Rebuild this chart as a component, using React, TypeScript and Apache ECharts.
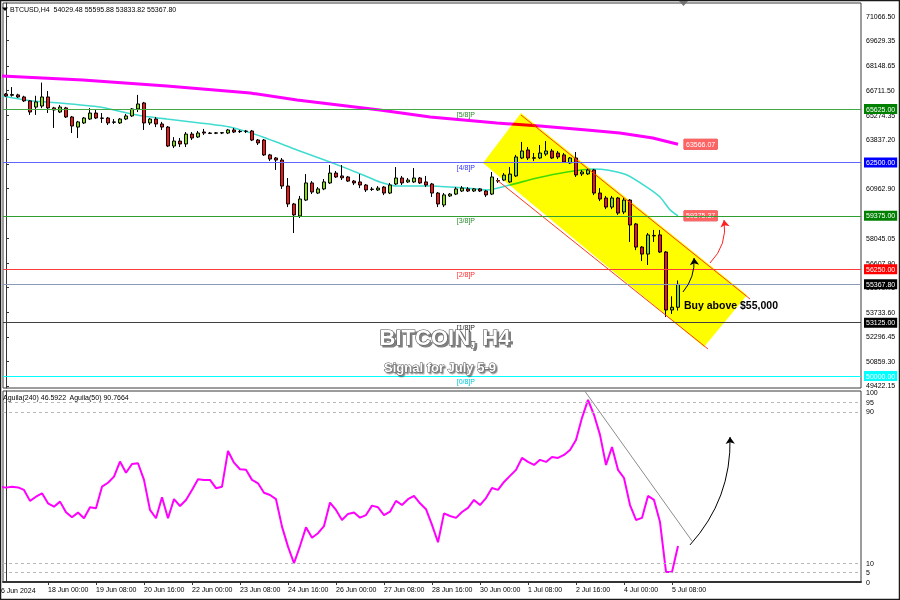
import React, { useEffect, useRef } from "react";
import * as echarts from "echarts";

const FONT = '"Liberation Sans", Arial, sans-serif';

// ---------- price data (H4 candles, 16 Jun 20:00 .. 5 Jul 12:00) ----------
const candleOpen = [
  66500, 66430, 66450, 66330, 66100, 65740, 65800, 66330, 65690, 65450,
  65690, 65160, 64570, 64810, 65040, 65390, 65100, 65100, 64870, 64810,
  65040, 65220, 65630, 65980, 64810, 65040, 64750, 64570, 63460, 63750,
  63580, 64160, 63990, 64280, 64220, 64210, 64220, 64220, 64400, 64300,
  64320, 64340, 63810, 63810, 62940, 62760, 62640, 61120, 60070, 59370,
  60300, 61300, 60710, 60950, 61300, 61880, 61710, 61650, 61410, 61360,
  61180, 60940, 60890, 61060, 60710, 61240, 61590, 61360, 61360, 61590,
  61360, 61240, 60710, 60010, 60540, 60650, 60830, 60950, 60830, 60950,
  60830, 60650, 61410, 61470, 61360, 61710, 62760, 63230, 62770, 62760,
  62990, 63170, 63050, 62940, 62470, 62760, 61830, 61830, 62060, 60710,
  60420, 59890, 60420, 59600, 60300, 58900, 57550, 57140, 58200, 58260,
  57260, 53870, 54029.48,
];
const candleClose = [
  66390, 66470, 66330, 66100, 65450, 66040, 66330, 65690, 65570, 65740,
  65160, 64630, 64870, 65100, 65390, 65100, 65080, 64810, 64850, 65040,
  65220, 65630, 65920, 64810, 65040, 64750, 64570, 63460, 63750, 63580,
  64160, 63930, 64220, 64220, 64200, 64230, 64240, 64400, 64280, 64320,
  64330, 63810, 63640, 62940, 62700, 62640, 61120, 60070, 59430, 60360,
  61300, 60770, 60950, 61360, 61880, 61650, 61600, 61410, 61300, 61180,
  60890, 60920, 61000, 60710, 61180, 61590, 61300, 61470, 61590, 61300,
  61180, 60710, 60070, 60600, 60650, 60950, 61000, 60830, 60950, 60830,
  60600, 61650, 61440, 61760, 61820, 62820, 63170, 62760, 62750, 63050,
  63170, 62760, 62820, 62530, 62760, 61770, 61940, 62060, 60710, 60360,
  59890, 60420, 59540, 60300, 58840, 57550, 57140, 58260, 58230, 57260,
  53870, 54029.48, 55367.8,
];
const candleLow = [
  66330, 66350, 66270, 66040, 65280, 65280, 65680, 65390, 64520, 65390,
  65100, 64220, 63930, 64750, 64980, 65040, 64810, 64690, 64750, 64750,
  64980, 65160, 65450, 64400, 64690, 64570, 64400, 63400, 63340, 63400,
  63400, 63810, 63930, 64110, 64160, 64160, 64160, 64160, 64220, 64220,
  64220, 63750, 63520, 62880, 62580, 62060, 60950, 59890, 58370, 59250,
  60240, 60650, 60650, 60880, 61240, 61590, 61470, 61360, 61180, 61000,
  60770, 60830, 60830, 60590, 60650, 61180, 61180, 61300, 61300, 61240,
  61060, 60480, 59890, 59890, 60480, 60590, 60770, 60770, 60770, 60770,
  60480, 60590, 61300, 61410, 61300, 61650, 62700, 62640, 62580, 62700,
  62880, 62700, 62700, 62470, 62410, 61650, 61710, 61770, 60590, 60240,
  59770, 59770, 59430, 59480, 57850, 57370, 56730, 56500, 57850, 57200,
  53460, 53640, 53833.82,
];
const candleHigh = [
  66560, 66910, 66520, 66400, 66150, 66400, 67170, 66680, 65750, 65860,
  65750, 65220, 64930, 65160, 65680, 65570, 65390, 65160, 65040, 65100,
  65330, 65680, 66450, 66040, 65100, 65160, 64870, 64630, 63980, 63930,
  64280, 64280, 64340, 64460, 64280, 64280, 64280, 64460, 64520, 64400,
  64400, 64400, 63870, 63870, 63000, 62820, 62760, 61590, 60130, 60540,
  61820, 61410, 61060, 61530, 62350, 62000, 62350, 61710, 61470, 61820,
  61240, 61060, 61120, 61120, 61300, 62230, 61710, 61590, 62170, 61650,
  61710, 61300, 60770, 60710, 60710, 61060, 61120, 61060, 61000, 61000,
  60890, 61940, 61590, 61880, 62230, 62940, 63700, 63400, 63050, 63520,
  63750, 63290, 63170, 63050, 62820, 63110, 62060, 62170, 62120, 61000,
  60540, 60540, 60480, 60420, 60360, 58960, 57610, 58370, 58550, 58550,
  57320, 54670, 55595.88,
];
const slotCount = 143; // bar slots incl. right-hand shift space

// moving averages: [bar index, price]
const maSlow: [number, number][] = [
  [-0.67, 67560], [12.8, 67320], [26.8, 66970], [40.7, 66560], [48.5, 66150],
  [62.3, 65570], [70.7, 65160], [81.8, 64810], [89, 64630], [96.8, 64400],
  [102.3, 64220], [107.8, 63930], [112, 63566.07],
];
const maFast: [number, number][] = [
  [-0.67, 66390], [4.5, 66090], [9, 65980], [15.7, 65740], [20.2, 65390],
  [22.8, 65220], [26.8, 65040], [32.3, 64810], [37.3, 64570], [42.8, 63990],
  [48.5, 63230], [54, 62530], [59.5, 61770], [62.3, 61360], [65.2, 61120],
  [70.7, 61120], [76.2, 61010], [80.2, 60890], [84, 61180], [88.5, 61590],
  [93.5, 61940], [97.8, 62120], [100.2, 62060], [103.5, 61770], [106.8, 61060],
  [109, 60480], [110.7, 59720], [112, 59375.37],
];

// oscillator (Aguila) values, first one belongs to bar index -1
const aguilaFirstIndex = -1;
const aguilaValues = [
  50.4, 49.9, 50.4, 50.0, 48.7, 42.9, 45.1, 46.9, 41.6, 39.8,
  42.5, 36.9, 34.2, 36.7, 33.7, 39.5, 39.0, 50.4, 52.5, 55.7,
  63.7, 57.8, 62.4, 62.8, 54.0, 38.1, 33.7, 44.8, 33.7, 43.8,
  40.2, 43.4, 48.7, 54.3, 54.0, 54.0, 49.6, 50.4, 69.3, 63.1,
  59.6, 59.3, 54.0, 52.2, 47.2, 46.0, 43.8, 29.3, 18.7, 9.9,
  19.0, 28.9, 23.4, 25.8, 29.6, 42.0, 38.1, 32.8, 36.0, 36.7,
  34.0, 35.4, 40.4, 39.5, 35.4, 37.2, 42.9, 40.7, 43.8, 45.5,
  41.6, 38.5, 30.2, 21.0, 36.3, 34.9, 33.9, 37.0, 39.2, 43.4,
  40.7, 44.4, 49.7, 48.7, 52.9, 56.1, 59.3, 65.6, 63.5, 61.9,
  64.6, 63.5, 66.1, 65.6, 67.2, 69.8, 75.1, 86.8, 96.3, 88.4,
  77.8, 61.9, 71.4, 59.3, 55.0, 40.7, 32.8, 33.9, 45.5, 43.4,
  31.7, 5.3, 5.3, 19.0,
];

// axes
const priceTicks = [
  71066.5, 69629.35, 68148.65, 66711.5, 65274.35, 63837.2, 62400.05, 60962.9,
  58045.05, 56607.9, 55170.75, 53733.6, 52296.45, 50859.3, 49422.15,
];
const oscTicks = [0, 5, 10, 90, 95, 100];
const oscLevels = [95, 90, 10, 5];
const timeTickIdx = [7, 15, 23, 31, 39, 47, 55, 63, 71, 79, 87, 95, 103, 111];
const timeTickLabels = [
  "18 Jun 00:00", "19 Jun 08:00", "20 Jun 16:00", "22 Jun 00:00", "23 Jun 08:00",
  "24 Jun 16:00", "26 Jun 00:00", "27 Jun 08:00", "28 Jun 16:00", "30 Jun 00:00",
  "1 Jul 08:00", "2 Jul 16:00", "4 Jul 00:00", "5 Jul 08:00",
];
const firstDateLabel = "16 Jun 2024";

// Murrey levels
const levelValues = [65625, 62500, 59375, 56250, 53125, 50000];
const levelNames = ["[5/8]P", "[4/8]P", "[3/8]P", "[2/8]P", "[1/8]P", "[0/8]P"];
const levelLineColors = ["#45a845", "#6464ff", "#2f9f2f", "#ff3c3c", "#404040", "#00ffff"];
const levelBoxColors = ["#008000", "#0000ff", "#008000", "#ff0000", "#000000", "#00ffff"];
const levelTextColors = ["#2a8a2a", "#3030ff", "#2a8a2a", "#ff2a2a", "#222222", "#00c8d8"];
const levelLabelAt = 75.2;

// annotations in data coordinates [bar index, price]
const channelCorners: [number, number][] = [
  [79.5, 62467], [85.83, 65392], [123.5, 54745], [116.33, 51703],
];
const channelUpper: [number, number][] = [[85.83, 65275], [124, 54511]];
const channelLower: [number, number][] = [[81.83, 61473], [117, 51586]];
const blackArrow: [number, number][] = [[112.83, 54920], [114.67, 56910]];
const redArrow: [number, number][] = [[117.33, 56617], [119.67, 59133]];
const oscTrend: [number, number][] = [[96.5, 100.8], [114.33, 21.7]];
const oscArrow: [number, number][] = [[114, 19.6], [120.67, 76.7]];

export default function App() {
  const ref = useRef<HTMLDivElement>(null);

  useEffect(() => {
    const el = ref.current!;
    const chart = echarts.init(el, null, { renderer: "svg", width: 900, height: 600 });

    const candles = candleOpen.map((o, k) => [o, candleClose[k], candleLow[k], candleHigh[k]]);
    const slots = Array.from({ length: slotCount }, (_, k) => String(k));
    const last = candles.length - 1;
    const lastPrice = candleClose[last];
    const aguilaData = aguilaValues.map((v, k) => [k + aguilaFirstIndex, v]);

    const levelLines: any[] = levelValues.map((v, k) => ({
      yAxis: v,
      lineStyle: { color: levelLineColors[k], width: 1, type: "solid" },
      label: { backgroundColor: levelBoxColors[k] },
    }));
    levelLines.push({
      yAxis: lastPrice,
      lineStyle: { color: "#8a9ab8", width: 1, type: "solid" },
      label: { backgroundColor: "#000000" },
    });

    const maLabel = {
      show: true,
      formatter: (p: any) => Number(p.value[1]).toFixed(2),
      color: "#fff",
      backgroundColor: "#ff6464",
      borderColor: "#e03030",
      borderWidth: 0.5,
      padding: [2, 2, 1, 2],
      fontSize: 7,
      fontFamily: FONT,
      distance: 6,
    };

    const header = `BTCUSD,H4  ${candleOpen[last]} ${candleHigh[last]} ${candleLow[last]} ${candleClose[last].toFixed(2)}`;

    const option: any = {
      animation: false,
      backgroundColor: "#ffffff",
      textStyle: { fontFamily: FONT },
      grid: [
        { left: 3, top: 3, width: 858, height: 385, show: true, borderColor: "#3a3a3a", borderWidth: 1, backgroundColor: "#fff" },
        { left: 3, top: 391, width: 858, height: 191, show: true, borderColor: "#3a3a3a", borderWidth: 1, backgroundColor: "#fff" },
      ],
      xAxis: [
        { type: "category", gridIndex: 0, data: slots, show: false, boundaryGap: true },
        { type: "value", gridIndex: 0, min: -0.5, max: slotCount - 0.5, show: false },
        {
          type: "value", gridIndex: 1, min: -0.5, max: slotCount - 0.5, position: "bottom",
          axisLine: { show: true, onZero: false, lineStyle: { color: "#333", width: 2 } },
          axisTick: { show: true, customValues: timeTickIdx, length: 3, lineStyle: { color: "#333" } },
          axisLabel: {
            customValues: timeTickIdx,
            formatter: (v: number) => timeTickLabels[timeTickIdx.indexOf(Math.round(v))] ?? "",
            fontSize: 7, color: "#000", align: "left", margin: 4, fontFamily: FONT,
          },
          splitLine: { show: false },
        },
      ],
      yAxis: [
        {
          type: "value", gridIndex: 0, position: "right", min: 49305, max: 71827,
          axisLine: { show: true, lineStyle: { color: "#333" } },
          axisTick: { show: true, customValues: priceTicks, length: 3, lineStyle: { color: "#333" } },
          axisLabel: { customValues: priceTicks, formatter: (v: number) => v.toFixed(2), fontSize: 7, color: "#000", margin: 5, fontFamily: FONT },
          splitLine: { show: false },
        },
        {
          type: "value", gridIndex: 1, position: "right", min: 0, max: 101,
          axisLine: { show: true, lineStyle: { color: "#333" } },
          axisTick: { show: false },
          axisLabel: { customValues: oscTicks, formatter: (v: number) => String(v), fontSize: 7, color: "#000", margin: 5, fontFamily: FONT },
          splitLine: { show: false },
        },
      ],
      series: [
        {
          type: "candlestick", name: "BTCUSD", xAxisIndex: 0, yAxisIndex: 0, data: candles, barWidth: 4, z: 2,
          itemStyle: { color: "#80e000", color0: "#ff1010", borderColor: "#000", borderColor0: "#000", borderWidth: 1 },
          markLine: {
            silent: true, symbol: ["none", "none"], animation: false,
            label: {
              show: true, position: "end", distance: 3, color: "#fff", fontSize: 7, fontFamily: FONT,
              padding: [2, 2, 1, 2], formatter: (p: any) => Number(p.value).toFixed(2),
            },
            data: levelLines,
          },
        },
        {
          type: "line", name: "MA slow", xAxisIndex: 1, yAxisIndex: 0, data: maSlow, showSymbol: false, z: 2,
          lineStyle: { color: "#ff00ff", width: 3 }, endLabel: maLabel,
        },
        {
          type: "line", name: "MA fast", xAxisIndex: 1, yAxisIndex: 0, data: maFast, showSymbol: false, smooth: 0.2, z: 2,
          lineStyle: { color: "#40dcd0", width: 1.6 }, endLabel: maLabel,
        },
        {
          type: "custom", name: "channel", xAxisIndex: 1, yAxisIndex: 0, z: 3, silent: true, clip: false,
          data: [[channelCorners[0][0], channelCorners[0][1]]],
          renderItem: (_p: any, api: any) => ({
            type: "polygon",
            shape: { points: channelCorners.map((c) => api.coord(c)) },
            style: { fill: "#fefe00", stroke: "none" },
          }),
        },
        {
          type: "lines", coordinateSystem: "cartesian2d", xAxisIndex: 1, yAxisIndex: 0, z: 4, silent: true,
          symbol: ["none", "none"],
          lineStyle: { color: "#ff3a1a", width: 1, opacity: 1 },
          data: [{ coords: channelUpper }, { coords: channelLower }],
        },
        {
          type: "lines", coordinateSystem: "cartesian2d", xAxisIndex: 1, yAxisIndex: 0, z: 5, silent: true,
          symbol: ["none", "arrow"], symbolSize: 7,
          data: [
            { coords: blackArrow, lineStyle: { color: "#000", width: 1, curveness: -0.2, opacity: 1 } },
            { coords: redArrow, lineStyle: { color: "#ff2020", width: 1, curveness: -0.25, opacity: 1 } },
          ],
        },
        {
          type: "scatter", xAxisIndex: 1, yAxisIndex: 0, z: 4, silent: true, symbolSize: 1,
          itemStyle: { color: "rgba(0,0,0,0)" },
          label: {
            show: true, position: [0, 2], align: "left", verticalAlign: "top", fontSize: 7, fontFamily: FONT,
            textBorderWidth: 0, opacity: 1,
          },
          data: levelValues.map((v, k) => ({
            value: [levelLabelAt, v],
            label: { formatter: levelNames[k], color: levelTextColors[k] },
          })),
        },
        {
          type: "line", name: "Aguila", xAxisIndex: 2, yAxisIndex: 1, data: aguilaData, showSymbol: false, z: 2,
          lineStyle: { color: "#ff00ff", width: 2 },
          markLine: {
            silent: true, symbol: ["none", "none"], label: { show: false },
            lineStyle: { color: "#b8b8b8", width: 1, type: [3, 3] },
            data: oscLevels.map((v) => ({ yAxis: v })),
          },
        },
        {
          type: "lines", coordinateSystem: "cartesian2d", xAxisIndex: 2, yAxisIndex: 1, z: 4, silent: true,
          data: [
            { coords: oscTrend, symbol: ["none", "none"], lineStyle: { color: "#8c8c8c", width: 1, curveness: 0, opacity: 1 } },
            { coords: oscArrow, symbol: ["none", "arrow"], symbolSize: 7, lineStyle: { color: "#000", width: 1, curveness: -0.2, opacity: 1 } },
          ],
          symbol: ["none", "arrow"], symbolSize: 7,
        },
      ],
      graphic: [
        { type: "rect", z: 20, silent: true, shape: { x: 0.5, y: 0.5, width: 899, height: 599 }, style: { fill: "none", stroke: "#1a1a1a", lineWidth: 1.5 } },
        { type: "polygon", z: 20, silent: true, shape: { points: [[2, 7.5], [8, 7.5], [5, 11]] }, style: { fill: "#000" } },
        { type: "polygon", z: 20, silent: true, shape: { points: [[679, 1], [688, 1], [683.5, 6]] }, style: { fill: "#707070" } },
        { type: "text", z: 20, silent: true, x: 10, y: 9.5, style: { text: header, fontSize: 7, fontFamily: FONT, fill: "#000", verticalAlign: "middle" } },
        { type: "text", z: 20, silent: true, x: 3, y: 397.5, style: { text: "Aguila(240) 46.5922  Aguila(50) 90.7664", fontSize: 7, fontFamily: FONT, fill: "#000", verticalAlign: "middle" } },
        { type: "text", z: 20, silent: true, x: -3, y: 590, style: { text: firstDateLabel, fontSize: 7, fontFamily: FONT, fill: "#000", verticalAlign: "middle" } },
        {
          type: "text", z: 20, silent: true, x: 445, y: 337,
          style: {
            text: "BITCOIN, H4", fontSize: 22, fontWeight: "bold", fontFamily: FONT, fill: "#ffffff",
            stroke: "#505050", lineWidth: 1.2, align: "center", verticalAlign: "middle",
            textShadowColor: "rgba(0,0,0,0.5)", textShadowBlur: 1, textShadowOffsetX: 2, textShadowOffsetY: 2,
          },
        },
        {
          type: "text", z: 20, silent: true, x: 440, y: 367,
          style: {
            text: "Signal for July 5-9", fontSize: 13, fontWeight: "bold", fontFamily: FONT, fill: "#ffffff",
            stroke: "#505050", lineWidth: 0.9, align: "center", verticalAlign: "middle",
            textShadowColor: "rgba(0,0,0,0.5)", textShadowBlur: 1, textShadowOffsetX: 1.5, textShadowOffsetY: 1.5,
          },
        },
        {
          type: "text", z: 20, silent: true, x: 684, y: 305,
          style: { text: "Buy above $55,000", fontSize: 10.5, fontWeight: "bold", fontFamily: FONT, fill: "#000", verticalAlign: "middle" },
        },
      ],
    };

    const applyBlend = () => {
      el.querySelectorAll("path").forEach((node) => {
        const f = (node.getAttribute("fill") || "").replace(/\s/g, "").toLowerCase();
        if (f === "#fefe00" || f === "rgb(254,254,0)") {
          (node as SVGElement).style.mixBlendMode = "multiply";
        }
      });
    };
    chart.on("finished", applyBlend);
    chart.setOption(option);
    applyBlend();
    const t = window.setTimeout(applyBlend, 50);

    return () => {
      window.clearTimeout(t);
      chart.dispose();
    };
  }, []);

  return <div ref={ref} style={{ position: "fixed", left: 0, top: 0, width: 900, height: 600 }} />;
}
